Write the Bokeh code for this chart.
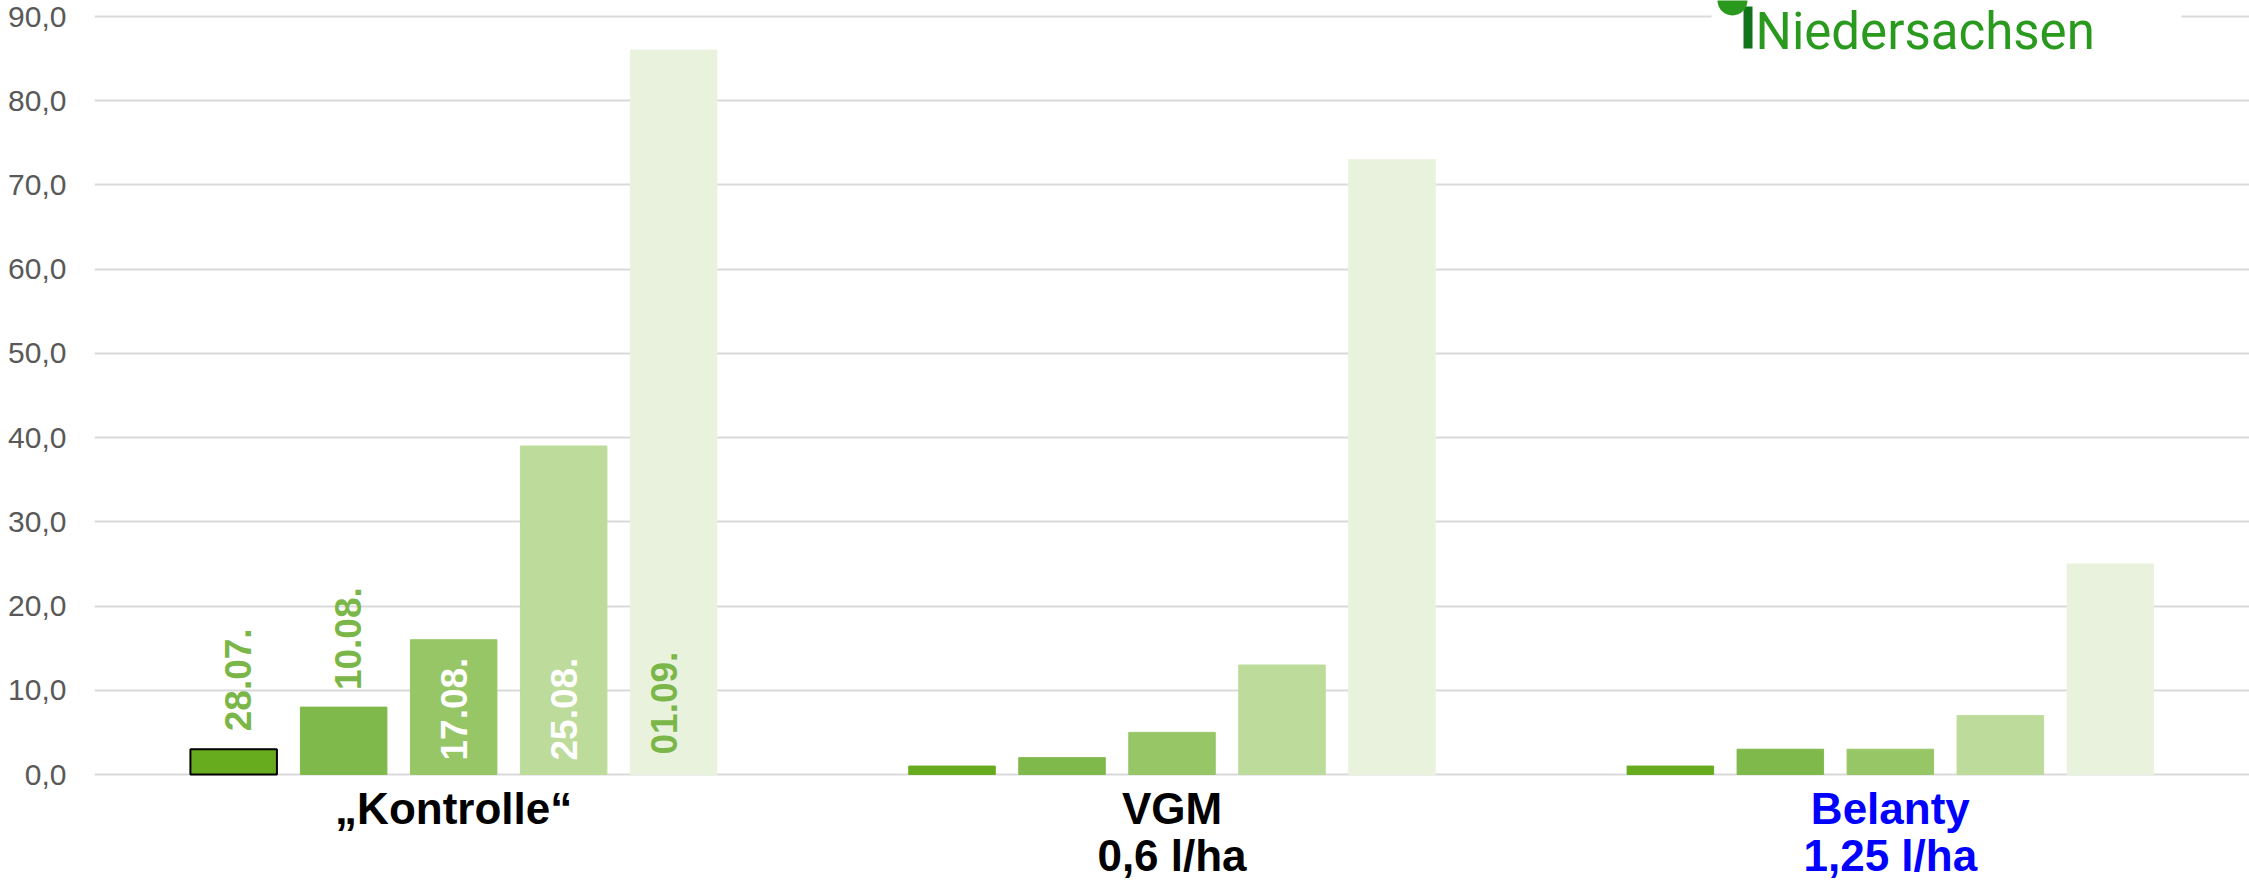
import math
from bokeh.plotting import figure
from bokeh.models import ColumnDataSource, Range1d, FixedTicker
from bokeh.core.properties import value
from bokeh.embed import file_html
from bokeh.resources import INLINE

# ---------------- data ----------------
categories = ["„Kontrolle“", "VGM", "Belanty"]
cat_line1 = ["„Kontrolle“", "VGM", "Belanty"]
cat_line2 = ["", "0,6 l/ha", "1,25 l/ha"]
dates = ["28.07.", "10.08.", "17.08.", "25.08.", "01.09."]
s_2807 = [3, 1, 1]
s_1008 = [8, 2, 3]
s_1708 = [16, 5, 3]
s_2508 = [39, 13, 7]
s_0109 = [86, 73, 25]
series = [s_2807, s_1008, s_1708, s_2508, s_0109]
y_ticks = [0, 10, 20, 30, 40, 50, 60, 70, 80, 90]
y_tick_labels = ["0,0", "10,0", "20,0", "30,0", "40,0", "50,0", "60,0", "70,0", "80,0", "90,0"]

# ---------------- style ----------------
bar_colors = ["#67ac1f", "#7fb84b", "#97c667", "#bddb9a", "#e9f2dd"]
label_colors = ["#7ab648", "#7ab648", "#ffffff", "#ffffff", "#7ab648"]
label_inside = [False, False, True, True, True]
label_gap = [18, 17, 14, 14, 20]
label_dx = [4, 4, 0, 0, -10]
cat_colors = ["#000000", "#000000", "#0000ff"]

W, H = 2249, 882
LEFT = 94                       # frame left in px
CAT_PX = (W - LEFT) / 3.0       # width of one category in px
ZERO_Y = 774                    # px row of value 0
PX_PER_UNIT = (774 - 16) / 90.0 # vertical px per value unit
PITCH = 110.0 / CAT_PX
BAR_W = 86.5 / CAT_PX

y_end = 90 + 16 / PX_PER_UNIT
y_start = -(H - ZERO_Y) / PX_PER_UNIT

p = figure(width=W, height=H, output_backend="svg", toolbar_location=None,
           x_range=Range1d(0, 3), y_range=Range1d(y_start, y_end),
           x_axis_location=None, min_border_left=LEFT, min_border_right=0,
           min_border_top=0, min_border_bottom=0)
p.outline_line_color = None
p.background_fill_color = "white"
p.border_fill_color = "white"
p.xgrid.grid_line_color = None
p.ygrid.grid_line_color = "#d9d9d9"
p.ygrid.grid_line_width = 2
p.ygrid.ticker = FixedTicker(ticks=y_ticks)

ax = p.yaxis[0]
ax.ticker = FixedTicker(ticks=y_ticks)
ax.major_label_overrides = {t: l for t, l in zip(y_ticks, y_tick_labels)}
ax.axis_line_color = None
ax.major_tick_line_color = None
ax.major_tick_out = 0
ax.major_tick_in = 0
ax.minor_tick_line_color = None
ax.minor_tick_out = 0
ax.major_label_standoff = 28
ax.major_label_text_font = "Liberation Sans"
ax.major_label_text_font_size = "30px"
ax.major_label_text_color = "#595959"

# ---------------- bars ----------------
xs, tops, fills, lines, lws = [], [], [], [], []
for j, s in enumerate(series):
    for i, v in enumerate(s):
        xs.append(i + 0.5 + (j - 2) * PITCH)
        tops.append(v)
        fills.append(bar_colors[j])
        if i == 0 and j == 0:
            lines.append("#000000"); lws.append(2)
        else:
            lines.append(bar_colors[j]); lws.append(1)
bars = ColumnDataSource(dict(x=xs, top=tops, fill=fills, line=lines, lw=lws))
p.vbar(x="x", top="top", bottom=0, width=BAR_W, source=bars,
       fill_color="fill", line_color="line", line_width="lw")

# ---------------- date labels (first group) ----------------
lx, ly, lt, lc, lyo, lxo = [], [], [], [], [], []
for j, d in enumerate(dates):
    lx.append(0.5 + (j - 2) * PITCH)
    ly.append(0 if label_inside[j] else series[j][0])
    lt.append(d)
    lc.append(label_colors[j])
    lyo.append(-label_gap[j])
    lxo.append(label_dx[j])
lab = ColumnDataSource(dict(x=lx, y=ly, text=lt, color=lc, yo=lyo, xo=lxo))
p.text(x="x", y="y", text="text", source=lab, angle=math.pi / 2,
       text_align="left", text_baseline="middle", text_color="color",
       x_offset="xo", y_offset="yo",
       text_font=value("Liberation Sans"), text_font_style="bold",
       text_font_size="37px")

# ---------------- category labels ----------------
cx = [i + 0.5 for i in range(len(categories))]
cat = ColumnDataSource(dict(x=cx, y=[0] * len(cx), t1=cat_line1, t2=cat_line2, c=cat_colors))
p.text(x="x", y="y", text="t1", source=cat, text_color="c", y_offset=34,
       text_align="center", text_baseline="middle",
       text_font=value("Liberation Sans"), text_font_style="bold", text_font_size="44px")
p.text(x="x", y="y", text="t2", source=cat, text_color="c", y_offset=81,
       text_align="center", text_baseline="middle",
       text_font=value("Liberation Sans"), text_font_style="bold", text_font_size="44px")

# ---------------- logo (decoration) ----------------
def px_x(px):
    return (px - LEFT) / CAT_PX

def px_y(py):
    return (ZERO_Y - py) / PX_PER_UNIT

p.quad(left=[px_x(1711)], right=[px_x(2181)], bottom=[px_y(58)], top=[y_end],
       fill_color="white", line_color=None)
p.quad(left=[px_x(1743)], right=[px_x(1752)], bottom=[px_y(48)], top=[px_y(6)],
       fill_color="#11741a", line_color=None)
p.scatter(x=[px_x(1732)], y=[px_y(0)], size=30, marker="circle",
          fill_color="#2a9a1f", line_color=None)
p.text(x=[px_x(1755)], y=[px_y(31)], text=["Niedersachsen"], text_color="#2a9a1f",
       text_align="left", text_baseline="middle",
       text_font=value("Roboto"), text_font_size="51px")

open("out.html", "w").write(file_html(p, INLINE))
